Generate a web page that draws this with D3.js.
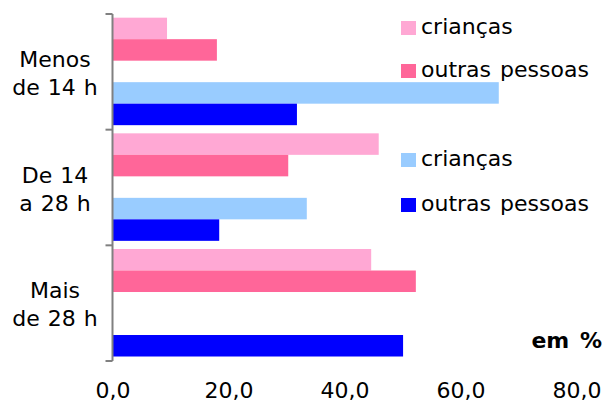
<script src="https://d3js.org/d3.v7.js"></script>
<style>
  body { margin: 0; background: #fff; }
  text { font-family: "DejaVu Sans", Verdana, sans-serif; fill: #000; }
</style>
<svg width="605" height="403"></svg>
<script>
  const categories = ["Menos de 14 h", "De 14 a 28 h", "Mais de 28 h"];
  const labelLines = [["Menos", "de 14 h"], ["De 14", "a 28 h"], ["Mais", "de 28 h"]];
  const seriesNames = ["crianças", "outras pessoas", "crianças", "outras pessoas"];
  const criancasRosa = [9.4, 45.9, 44.6];
  const outrasRosa = [18.0, 30.3, 52.3];
  const criancasAzul = [66.6, 33.5, null];
  const outrasAzul = [31.8, 18.4, 50.1];
  const xTicks = [0, 20, 40, 60, 80];

  const colors = ["#ffa8d4", "#ff6699", "#99ccff", "#0000ff"];
  const slots = ["cr", "or", "gap", "ca", "oa"];
  const series = [
    {slot: "cr", values: criancasRosa},
    {slot: "or", values: outrasRosa},
    {slot: "ca", values: criancasAzul},
    {slot: "oa", values: outrasAzul}
  ];

  const svg = d3.select("svg");

  const x = d3.scaleLinear().domain([0, 80]).range([112.5, 576.5]);
  const y = d3.scaleBand().domain(categories).range([14, 361]).padding(0);
  const ySub = d3.scaleBand().domain(slots).range([0, y.bandwidth()])
    .paddingInner(0).paddingOuter(0.19).align(0.45);

  // bars
  series.forEach((s, i) => {
    svg.append("g")
      .selectAll("rect")
      .data(s.values.map((v, j) => ({v, c: categories[j]})).filter(d => d.v != null))
      .join("rect")
      .attr("x", x(0))
      .attr("y", d => y(d.c) + ySub(s.slot))
      .attr("width", d => x(d.v) - x(0))
      .attr("height", ySub.bandwidth())
      .attr("fill", colors[i]);
  });

  // category axis
  const yAxis = svg.append("g");
  yAxis.append("line")
    .attr("x1", x(0)).attr("x2", x(0))
    .attr("y1", y.range()[0]).attr("y2", y.range()[1])
    .attr("stroke", "#808080").attr("stroke-width", 2);
  const bounds = categories.map(c => y(c)).concat([y.range()[1]]);
  yAxis.selectAll("line.tick")
    .data(bounds)
    .join("line")
    .attr("class", "tick")
    .attr("x1", x(0) - 7).attr("x2", x(0))
    .attr("y1", d => d).attr("y2", d => d)
    .attr("stroke", "#808080").attr("stroke-width", 2);

  yAxis.selectAll("text.cat")
    .data(categories)
    .join("text")
    .attr("class", "cat")
    .attr("text-anchor", "middle")
    .attr("font-size", 22)
    .attr("word-spacing", 1)
    .each(function (c, i) {
      const t = d3.select(this);
      const cy = y(c) + y.bandwidth() / 2;
      labelLines[i].forEach((line, k) => {
        t.append("tspan")
          .attr("x", 55)
          .attr("y", cy + 9 + (k - 0.5) * 28)
          .text(line);
      });
    });

  // value axis
  const xAxis = svg.append("g")
    .attr("transform", `translate(0,${y.range()[1]})`)
    .call(d3.axisBottom(x).tickValues(xTicks).tickSize(0).tickPadding(21)
      .tickFormat(d => d3.format(".1f")(d).replace(".", ",")));
  xAxis.select(".domain").remove();
  xAxis.selectAll("text")
    .attr("font-size", 22)
    .attr("font-family", "DejaVu Sans, Verdana, sans-serif")
    .attr("fill", "#000");

  // legend
  const legendTop = [21, 64, 153, 198];
  const legend = svg.append("g");
  seriesNames.forEach((name, i) => {
    legend.append("rect")
      .attr("x", 401).attr("y", legendTop[i])
      .attr("width", 15).attr("height", 14)
      .attr("fill", colors[i]);
    legend.append("text")
      .attr("x", 421).attr("y", legendTop[i] + 13)
      .attr("font-size", 22)
      .attr("word-spacing", 2)
      .text(name);
  });

  svg.append("text")
    .attr("x", 602).attr("y", 348)
    .attr("text-anchor", "end")
    .attr("font-size", 22)
    .attr("font-weight", "bold")
    .attr("word-spacing", 3)
    .text("em %");
</script>
